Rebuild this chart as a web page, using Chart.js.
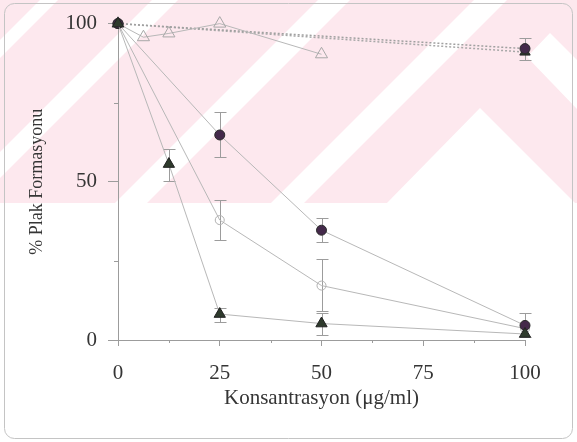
<!DOCTYPE html>
<html><head><meta charset="utf-8">
<script src="https://cdn.jsdelivr.net/npm/chart.js@4/dist/chart.umd.min.js"></script>
<style>html,body{margin:0;padding:0;background:#fff;} canvas{display:block;}</style>
</head><body>
<canvas id="c" width="577" height="442"></canvas>
<script>
// ---- data ----
const xTicks = [0, 25, 50, 75, 100];
const yTicks = [0, 50, 100];
const xMinor = [12.5, 37.5, 62.5, 87.5];
const yMinor = [25, 75];

// filled triangles
const triX  = [0, 12.5, 25, 50, 100];
const triY  = [100, 55.6, 8.2, 5.2, 1.9];
const triLo = [null, 50.2, 5.7, 1.5, null];
const triHi = [null, 60.3, 10.1, 8.4, null];
// filled circles
const fcX  = [0, 25, 50, 100];
const fcY  = [100, 64.8, 34.7, 4.6];
const fcLo = [null, 57.7, 31.0, 1.0];
const fcHi = [null, 72.0, 38.5, 8.5];
// open circles
const ocX  = [0, 25, 50, 100];
const ocY  = [100, 37.9, 17.2, 3.6];
const ocLo = [null, 31.5, 9.3, null];
const ocHi = [null, 44.3, 25.5, null];
// open triangles
const otX = [0, 6.25, 12.5, 25, 50];
const otY = [100, 95.7, 96.9, 100, 90.3];
// dotted series
const dcX = [0, 100];
const dcY = [100, 92.1];
const dcLo = [null, 88.5];
const dcHi = [null, 95.5];
const dtX = [0, 100];
const dtY = [100, 91.0];

const pts = (xs, ys) => xs.map((x, i) => ({x: x, y: ys[i]}));

const LINE = '#b8b8b8';
const FONT = 'Liberation Serif';
const TXT = '#353535';

const bgPlugin = {
  id: 'bg',
  beforeDraw(chart) {
    const ctx = chart.ctx;
    const W = chart.width, H = chart.height;
    ctx.save();
    ctx.fillStyle = '#fff';
    ctx.fillRect(0, 0, W, H);
    ctx.beginPath();
    ctx.rect(0, 0, W, 203);
    ctx.clip();
    ctx.fillStyle = '#fde8ee';
    ctx.fillRect(0, 0, W, 203);
    ctx.fillStyle = '#ffffff';
    const bands = [[40, 58], [152, 178], [318, 350], [474, 507]];
    bands.forEach(b => {
      ctx.beginPath();
      ctx.moveTo(b[0], 0); ctx.lineTo(b[1], 0);
      ctx.lineTo(b[1] - 210, 210); ctx.lineTo(b[0] - 210, 210);
      ctx.closePath(); ctx.fill();
    });
    ctx.beginPath();
    ctx.moveTo(385, 205); ctx.lineTo(480, 108); ctx.lineTo(580, 208); ctx.closePath(); ctx.fill();
    ctx.beginPath();
    ctx.moveTo(550, 33); ctx.lineTo(580, 63); ctx.lineTo(580, 112); ctx.lineTo(527, 57); ctx.closePath(); ctx.fill();
    ctx.restore();
  },
  afterDraw(chart) {
    const ctx = chart.ctx;
    ctx.save();
    ctx.strokeStyle = '#c4c4c4';
    ctx.lineWidth = 1;
    ctx.beginPath();
    ctx.roundRect(4.5, 3.5, 568, 435, 10);
    ctx.stroke();
    ctx.restore();
  }
};

const errPlugin = {
  id: 'err',
  beforeDatasetsDraw(chart) {
    const ctx = chart.ctx;
    const xs = chart.scales.x, ys = chart.scales.y;
    ctx.save();
    ctx.strokeStyle = '#9c9c9c';
    ctx.lineWidth = 1;
    // minor ticks
    ctx.beginPath();
    xMinor.forEach(v => {
      const px = Math.round(xs.getPixelForValue(v)) + 0.5;
      ctx.moveTo(px, ys.bottom); ctx.lineTo(px, ys.bottom + 3);
    });
    yMinor.forEach(v => {
      const py = Math.round(ys.getPixelForValue(v)) + 0.5;
      ctx.moveTo(xs.left, py); ctx.lineTo(xs.left - 4, py);
    });
    ctx.stroke();
    chart.data.datasets.forEach(ds => {
      if (!ds.errLo) return;
      ds.data.forEach((p, i) => {
        const lo = ds.errLo[i], hi = ds.errHi[i];
        if (lo == null || hi == null) return;
        const px = Math.round(xs.getPixelForValue(p.x)) + 0.5;
        const y1 = Math.round(ys.getPixelForValue(lo)) + 0.5;
        const y2 = Math.round(ys.getPixelForValue(hi)) + 0.5;
        ctx.beginPath();
        ctx.moveTo(px, y1); ctx.lineTo(px, y2);
        ctx.moveTo(px - 6, y1); ctx.lineTo(px + 6, y1);
        ctx.moveTo(px - 6, y2); ctx.lineTo(px + 6, y2);
        ctx.stroke();
      });
    });
    ctx.restore();
  }
};

const base = {showLine: true, clip: false, borderWidth: 1, pointBorderWidth: 1};

new Chart(document.getElementById('c'), {
  type: 'scatter',
  data: {
    datasets: [
      Object.assign({}, base, {
        label: 'filled triangle', data: pts(triX, triY), errLo: triLo, errHi: triHi,
        borderColor: LINE, pointStyle: 'triangle', pointRadius: 6.5,
        pointBackgroundColor: '#2e3a2c', pointBorderColor: '#222'
      }),
      Object.assign({}, base, {
        label: 'filled circle', data: pts(fcX, fcY), errLo: fcLo, errHi: fcHi,
        borderColor: LINE, pointStyle: 'circle', pointRadius: 5,
        pointBackgroundColor: '#44294a', pointBorderColor: '#2a2a2a'
      }),
      Object.assign({}, base, {
        label: 'open circle', data: pts(ocX, ocY), errLo: ocLo, errHi: ocHi,
        borderColor: LINE, pointStyle: 'circle', pointRadius: 4.5,
        pointBackgroundColor: 'rgba(255,255,255,0)', pointBorderColor: '#b0b0b0'
      }),
      Object.assign({}, base, {
        label: 'open triangle', data: pts(otX, otY),
        borderColor: LINE, pointStyle: 'triangle', pointRadius: 7,
        pointBackgroundColor: 'rgba(255,255,255,0)', pointBorderColor: '#a8a8a8'
      }),
      Object.assign({}, base, {
        label: 'dotted circle', data: pts(dcX, dcY), errLo: dcLo, errHi: dcHi,
        borderColor: '#a0a0a0', borderWidth: 1.5, borderDash: [2, 2],
        pointStyle: 'circle', pointRadius: 5,
        pointBackgroundColor: '#44294a', pointBorderColor: '#2a2a2a'
      }),
      Object.assign({}, base, {
        label: 'dotted triangle', data: pts(dtX, dtY),
        borderColor: '#a8a8a8', borderWidth: 1.5, borderDash: [2, 2],
        pointStyle: 'triangle', pointRadius: 6,
        pointBackgroundColor: '#2e3a2c', pointBorderColor: '#222'
      })
    ]
  },
  options: {
    responsive: false,
    animation: false,
    devicePixelRatio: 1,
    layout: {padding: {top: 18, right: 52, left: 0, bottom: 0}},
    plugins: {legend: {display: false}, tooltip: {enabled: false}},
    scales: {
      x: {
        type: 'linear', min: 0, max: 100,
        afterBuildTicks: s => { s.ticks = xTicks.map(v => ({value: v})); },
        afterFit: s => { s.height = 102; },
        grid: {drawOnChartArea: false, tickLength: 6, color: '#9c9c9c'},
        border: {color: '#9c9c9c'},
        ticks: {autoSkip: false, maxRotation: 0, padding: 15, color: TXT, font: {family: FONT, size: 21}},
        title: {display: true, text: 'Konsantrasyon (\u03bcg/ml)', color: TXT,
                font: {family: FONT, size: 21}, padding: {top: 0, bottom: 31}}
      },
      y: {
        type: 'linear', min: 0, max: 100,
        afterBuildTicks: s => { s.ticks = yTicks.map(v => ({value: v})); },
        afterFit: s => { s.width = 118; },
        grid: {drawOnChartArea: false, tickLength: 10, color: '#9c9c9c'},
        border: {color: '#9c9c9c'},
        ticks: {autoSkip: false, padding: 11, color: TXT, font: {family: FONT, size: 21}},
        title: {display: true, text: '% Plak Formasyonu', color: TXT,
                font: {family: FONT, size: 18}, padding: {top: 26, bottom: 0}}
      }
    }
  },
  plugins: [bgPlugin, errPlugin]
});
</script>
</body></html>
